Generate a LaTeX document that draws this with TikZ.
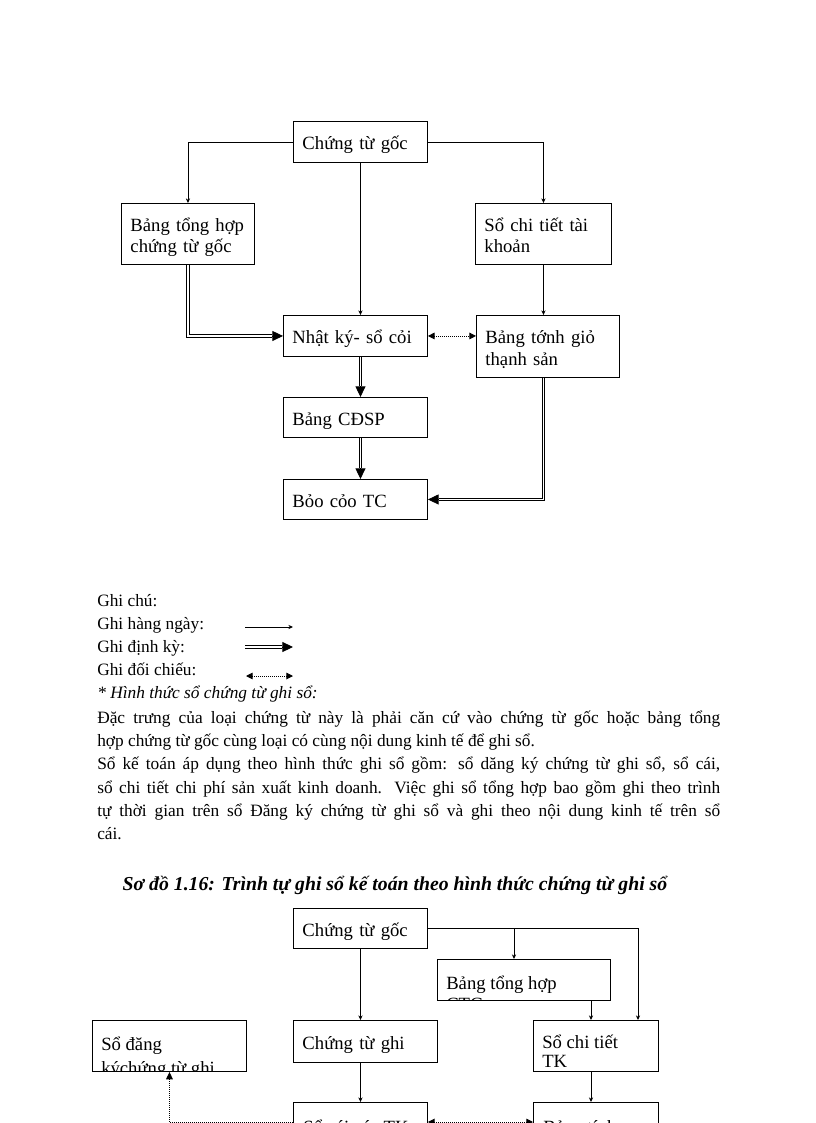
\documentclass[tikz,border=0pt]{standalone}
\usepackage{fontspec}
\setmainfont{Liberation Serif}
\usetikzlibrary{arrows.meta,calc}
\begin{document}
\begin{tikzpicture}[x=0.75pt,y=-0.75pt,
  box/.style={draw, line width=0.7pt, rectangle, anchor=north west, inner ysep=0pt, inner xsep=6.75pt, align=left, font=\fontsize{14}{16}\selectfont},
  boxt/.style={box, execute at begin node={\rule{0pt}{15.5pt}}, execute at end node={\rule[-3.5pt]{0pt}{3.5pt}}},
  lbl/.style={anchor=base west, inner sep=0pt, font=\fontsize{14}{16}\selectfont},
  txt/.style={anchor=base west, inner sep=0pt, font=\fontsize{13}{17.5}\selectfont},
  thinar/.style={line width=0.6pt, -{Stealth[length=3.5pt,width=3.2pt]}},
  dbl/.style={line width=0.65pt, double, double distance=1.3pt},
  dbltip/.style={line width=0.65pt, -{Triangle[length=8pt,width=7.5pt]}},
  dotline/.style={line width=0.7pt, dash pattern=on 0.75pt off 0.75pt},
  dotar/.style={dotline, {Triangle[length=5pt,width=5pt]}-{Triangle[length=5pt,width=5pt]}},
  dotup/.style={dotline, -{Triangle[length=5.5pt,width=5pt]}}
]
\clip (0,0) rectangle (816,1123);
\fill[white] (0,0) rectangle (816,1123);

% ---------------- top diagram ----------------
\node[boxt, minimum width=100.5pt, minimum height=30.75pt, text width=87pt] (cg) at (293,121) {Chứng từ gốc};
\node[boxt, minimum width=99.75pt, minimum height=45.75pt, text width=86.25pt] (btg) at (121,203) {Bảng tổng hợp\\chứng từ gốc};
\node[boxt, minimum width=102pt, minimum height=45.75pt, text width=88.5pt] (sct) at (475,203) {Sổ chi tiết tài\\khoản};
\node[boxt, minimum width=108pt, minimum height=30.75pt, text width=94.5pt] (nk) at (283,315) {Nhật ký- sổ cỏi};
\node[boxt, minimum width=107.25pt, minimum height=46.5pt, text width=93.75pt] (bt) at (476,315) {Bảng tớnh giỏ\\thạnh sản};
\node[boxt, minimum width=108pt, minimum height=30pt, text width=94.5pt] (cd) at (283,397) {Bảng CĐSP};
\node[boxt, minimum width=108pt, minimum height=30pt, text width=94.5pt] (bc) at (283,479) {Bỏo cỏo TC};

\draw[thinar] (cg.west) -| (btg.north);
\draw[thinar] (cg.east) -| (sct.north);
\draw[thinar] (cg.south) -- (cg.south |- nk.north);
\draw[thinar] (sct.south) -- (sct.south |- bt.north);
\draw[dotar] (nk.east) -- (nk.east -| bt.west);
\draw[dbl] (btg.south) |- ($(nk.west)+(-11,0)$);
\draw[dbltip] ($(nk.west)+(-11,0)$) -- (nk.west);
\draw[dbl] (cg.south |- nk.south) -- ($(cg.south |- cd.north)+(0,-11)$);
\draw[dbltip] ($(cg.south |- cd.north)+(0,-11)$) -- (cg.south |- cd.north);
\draw[dbl] (cg.south |- cd.south) -- ($(cg.south |- bc.north)+(0,-11)$);
\draw[dbltip] ($(cg.south |- bc.north)+(0,-11)$) -- (cg.south |- bc.north);
\draw[dbl] (sct.south |- bt.south) |- ($(bc.east)+(11,0)$);
\draw[dbltip] ($(bc.east)+(11,0)$) -- (bc.east);

% ---------------- legend ----------------
\node[txt] (g0) at (97,606) {Ghi chú:};
\node[txt] (g1) at (97,629) {Ghi hàng ngày:};
\node[txt] (g2) at (97,652) {Ghi định kỳ:};
\node[txt] (g3) at (97,675) {Ghi đối chiếu:};
\coordinate (l1a) at (245,627); \coordinate (l1b) at (293,627);
\coordinate (l2a) at (245,647); \coordinate (l2m) at (282,647); \coordinate (l2b) at (293,647);
\coordinate (l3a) at (246,676); \coordinate (l3b) at (293,676);
\draw[thinar] (l1a) -- (l1b);
\draw[dbl] (l2a) -- (l2m);
\draw[dbltip] (l2m) -- (l2b);
\draw[dotar] (l3a) -- (l3b);
\node[txt, font=\fontsize{13}{17.5}\selectfont\itshape] (g4) at (97,698) {* Hình thức sổ chứng từ ghi sổ:};

\node[txt, text width=467.25pt, align=justify] (para) at (97,723) {\parindent=0pt
Đặc trưng của loại chứng từ này là phải căn cứ vào chứng từ gốc hoặc bảng tổng\linebreak
hợp chứng từ gốc cùng loại có cùng nội dung kinh tế để ghi sổ.\par
Sổ kế toán áp dụng theo hình thức ghi sổ gồm: sổ dăng ký chứng từ ghi sổ, sổ cái,\linebreak
sổ chi tiết chi phí sản xuất kinh doanh. Việc ghi sổ tổng hợp bao gồm ghi theo trình\linebreak
tự thời gian trên sổ Đăng ký chứng từ ghi sổ và ghi theo nội dung kinh tế trên sổ\linebreak
cái.};

\node[anchor=base, inner sep=0pt, font=\fontsize{14.8}{17.5}\selectfont\bfseries\itshape] (cap) at (395,890) {Sơ đồ 1.16: Trình tự ghi sổ kế toán theo hình thức chứng từ ghi sổ};

% ---------------- bottom diagram ----------------
\node[boxt, minimum width=100.5pt, minimum height=30pt, text width=87pt] (cg2) at (293,908) {Chứng từ gốc};
\node[box, minimum width=129.75pt, minimum height=30.75pt] (btg2) at (437,959) {};
\node[box, minimum width=115.5pt, minimum height=38.25pt] (sdk) at (92,1020) {};
\node[boxt, minimum width=108pt, minimum height=31.5pt, text width=94.5pt] (ctg) at (293,1020) {Chứng từ ghi};
\node[box, minimum width=93.75pt, minimum height=38.25pt] (sct2) at (533,1020) {};
\node[box, minimum width=100.5pt, minimum height=45pt] (sc) at (293,1102) {};
\node[box, minimum width=93.75pt, minimum height=45pt] (bt2) at (533,1102) {};

\node[lbl] (sct2a) at (542,1048) {Sổ chi tiết};
\node[lbl] (sct2b) at (542,1067) {TK};
\begin{scope}
  \clip (btg2.north west) rectangle (btg2.south east);
  \node[lbl] (btg2a) at (446,989) {Bảng tổng hợp};
  \node[lbl] (btg2b) at (446,1010) {CTG};
\end{scope}
\begin{scope}
  \clip (sdk.north west) rectangle (sdk.south east);
  \node[lbl] (sdka) at (101,1050) {Sổ đăng};
  \node[lbl] (sdkb) at (101,1074) {kýchứng từ ghi};
\end{scope}
\begin{scope}
  \clip (sc.north west) rectangle (sc.south east);
  \node[lbl] (sca) at (303,1133) {Sổ cái các TK};
\end{scope}
\begin{scope}
  \clip (bt2.north west) rectangle (bt2.south east);
  \node[lbl] (bt2a) at (543,1133) {Bảng tính};
\end{scope}

\coordinate (rx) at (638,0);
\coordinate (bx) at (514,0);
\coordinate (cx) at (591,0);
\coordinate (dy) at (0,1122);
\draw[thinar] (cg2.east) -| (rx |- sct2.north);
\draw[thinar] (bx |- cg2.east) -- (bx |- btg2.north);
\draw[thinar] (cg2.south) -- (cg2.south |- ctg.north);
\draw[thinar] (cx |- btg2.south) -- (cx |- sct2.north);
\draw[thinar] (cg2.south |- ctg.south) -- (cg2.south |- sc.north);
\draw[thinar] (cx |- sct2.south) -- (cx |- bt2.north);
\draw[dotup] (sc.west |- dy) -| (sdk.south);
\draw[dotar] (sc.east |- dy) -- (bt2.west |- dy);
\end{tikzpicture}
\end{document}
